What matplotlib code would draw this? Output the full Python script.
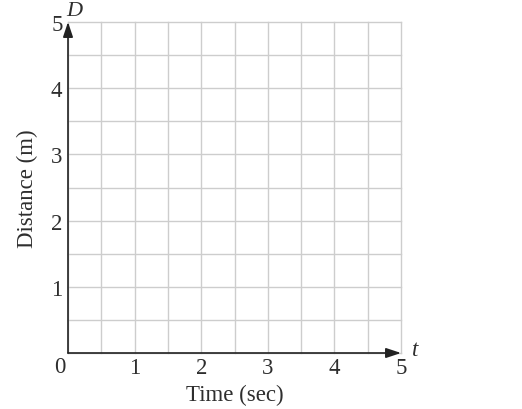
import matplotlib
matplotlib.use("Agg")
import matplotlib.pyplot as plt
import numpy as np

x_ticks = [1, 2, 3, 4, 5]
y_ticks = [1, 2, 3, 4, 5]
x_max = 5
y_max = 5
grid_step = 0.5
x_label = "Time (sec)"
y_label = "Distance (m)"
x_var = "t"
y_var = "D"

plt.rcParams['font.family'] = ['Liberation Serif', 'DejaVu Serif']
txt = '#2e2e2e'
fs = 16.5

fig = plt.figure(figsize=(5.22, 4.10), dpi=100)
ax = fig.add_axes([68/522, 1-354/410, (401-68)/522, (354-23)/410])
ax.set_xlim(0, x_max)
ax.set_ylim(0, y_max)
for s in ax.spines.values():
    s.set_visible(False)

ax.set_xticks(x_ticks)
ax.set_yticks(y_ticks)
ax.set_xticks(np.arange(0, x_max + 0.01, grid_step), minor=True)
ax.set_yticks(np.arange(0, y_max + 0.01, grid_step), minor=True)
ax.tick_params(which='both', length=0)
ax.tick_params(axis='x', pad=3.0, labelsize=fs, labelcolor=txt)
ax.tick_params(axis='y', pad=4.0, labelsize=fs, labelcolor=txt)
ax.grid(which='both', color='#cdcdcd', linewidth=1.0)
for t in (ax.xaxis.get_minor_ticks() + ax.yaxis.get_minor_ticks()
          + ax.xaxis.get_major_ticks() + ax.yaxis.get_major_ticks()):
    t.gridline.set_clip_on(False)

arrow = dict(arrowstyle='-|>,head_length=0.9,head_width=0.3', color='#222222', lw=1.2,
             shrinkA=0, shrinkB=0, mutation_scale=10)
ax.annotate('', xy=(x_max, 0), xytext=(0, 0), arrowprops=arrow, annotation_clip=False, zorder=5)
ax.annotate('', xy=(0, y_max), xytext=(0, 0), arrowprops=arrow, annotation_clip=False, zorder=5)

ax.annotate('0', xy=(0, 0), xytext=(-8, -14), textcoords='offset pixels',
            ha='center', va='center', fontsize=fs, color=txt, annotation_clip=False)
ax.annotate(x_var, xy=(x_max, 0), xytext=(14, 3), textcoords='offset pixels',
            ha='center', va='center', fontsize=fs, color=txt, style='italic', annotation_clip=False)
ax.annotate(y_var, xy=(0, y_max), xytext=(6, 11), textcoords='offset pixels',
            ha='center', va='center', fontsize=fs - 0.5, color=txt, style='italic', annotation_clip=False)

ax.set_xlabel(x_label, fontsize=fs, color=txt, labelpad=4)
ax.set_ylabel(y_label, fontsize=fs, color=txt, labelpad=9)

fig.savefig('out.png', dpi=100)
